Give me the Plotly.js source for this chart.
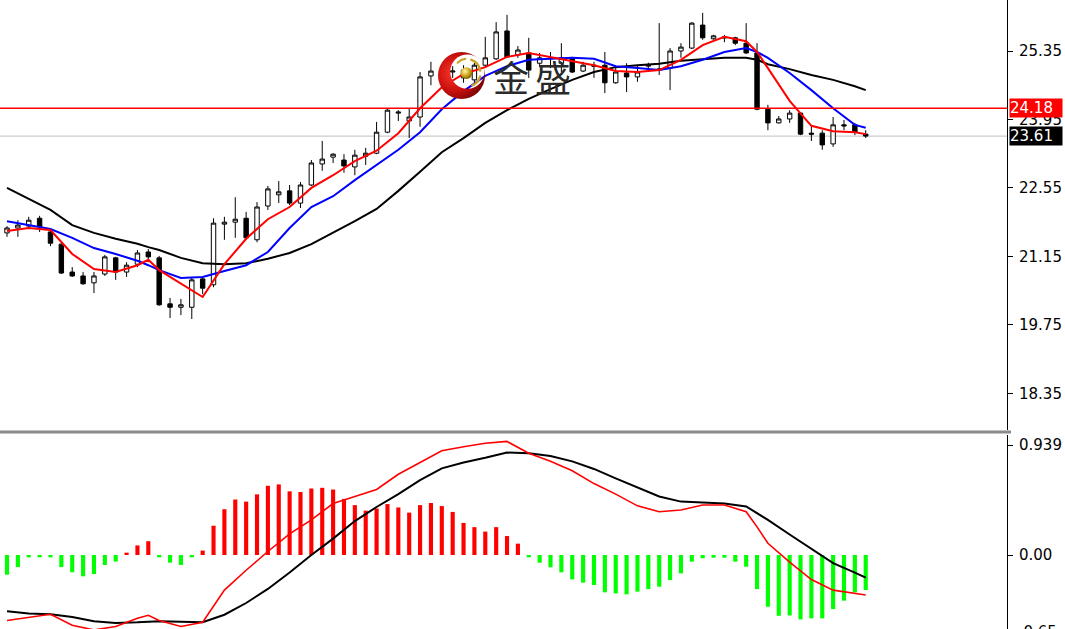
<!DOCTYPE html>
<html>
<head>
<meta charset="utf-8">
<script src="https://cdn.plot.ly/plotly-3.0.1.min.js"></script>
<style>
html,body{margin:0;padding:0;background:#fff;}
#chart{width:1065px;height:629px;}
</style>
</head>
<body>
<div id="chart"></div>
<script>
// ---------- candle data (bar number = position) ----------
const openP = [21.63,21.73,21.77,21.93,21.65,21.40,20.83,20.75,20.61,20.79,
  21.12,20.83,20.99,21.24,21.12,20.18,20.11,20.11,20.69,20.57,
  21.81,21.85,21.93,21.49,22.18,22.41,22.49,22.24,22.61,23.04,
  23.18,23.12,22.98,23.20,23.26,23.69,24.08,23.92,24.00,24.84,
  24.90,24.92,24.80,24.76,25.06,25.19,25.76,25.27,25.31,25.10,
  25.19,25.10,25.21,24.94,25.06,25.06,24.70,24.90,24.82,25.04,
  24.96,25.00,25.35,25.41,25.88,25.60,25.64,25.62,25.51,25.31,
  24.16,23.88,23.96,24.08,23.67,23.67,23.45,23.84,23.84,23.65];
const highP = [21.77,21.89,21.96,21.98,21.69,21.42,20.93,20.83,20.83,21.18,
  21.14,21.03,21.28,21.30,21.16,20.30,20.28,20.73,20.73,21.93,
  21.96,22.36,22.06,22.26,22.59,22.69,22.61,22.67,23.12,23.51,
  23.26,23.24,23.33,23.37,23.90,24.16,24.14,24.18,24.92,25.13,
  25.00,25.04,25.06,25.11,25.64,25.94,26.09,25.45,25.62,25.31,
  25.33,25.51,25.23,25.13,25.13,25.33,25.00,25.10,25.06,25.11,
  25.92,25.41,25.51,25.94,26.13,25.68,25.68,25.64,25.92,25.51,
  24.25,24.02,24.14,24.10,23.80,23.73,24.00,23.94,23.88,23.73];
const lowP = [21.55,21.55,21.73,21.65,21.36,20.79,20.73,20.57,20.40,20.75,
  20.67,20.73,20.93,21.03,20.14,19.89,19.95,19.87,20.38,20.52,
  21.49,21.53,21.49,21.44,22.10,22.24,22.20,22.14,22.59,22.90,
  23.06,22.86,22.81,23.02,23.24,23.67,23.92,23.57,23.80,24.65,
  24.80,24.80,24.70,24.65,25.02,25.17,25.21,25.21,24.80,25.02,
  25.00,24.92,24.90,24.92,24.80,24.49,24.68,24.51,24.72,25.00,
  24.86,24.55,25.21,25.39,25.58,25.58,25.53,25.47,25.29,24.14,
  23.73,23.87,23.88,23.63,23.51,23.33,23.39,23.73,23.63,23.57];
const closeP = [21.73,21.79,21.89,21.75,21.42,20.81,20.75,20.59,20.75,21.14,
  20.83,20.97,21.22,21.14,20.16,20.11,20.16,20.67,20.50,21.83,
  21.85,21.91,21.53,22.16,22.53,22.47,22.24,22.61,23.06,23.14,
  23.24,23.00,23.22,23.26,23.69,24.14,24.10,24.00,24.82,24.94,
  24.92,24.94,24.96,25.06,25.21,25.74,25.23,25.37,24.96,25.21,
  25.21,25.21,24.92,25.06,25.04,24.70,24.92,24.82,24.92,25.06,
  24.98,25.35,25.43,25.92,25.62,25.66,25.62,25.51,25.31,24.16,
  23.88,23.96,24.08,23.65,23.65,23.43,23.84,23.82,23.69,23.61];

// ---------- moving averages (read at sampled bar numbers) ----------
const maBars = [0,2,4,6,8,10,12,13,14,16,18,20,22,24,26,28,30,32,34,36,38,40,42,44,46,48,50,52,54,56,58,60,62,64,66,68,69,70,72,74,76,78,79];
const maFast = [21.67,21.73,21.69,21.20,20.89,20.83,20.97,21.08,20.87,20.59,20.32,20.99,21.51,21.91,22.16,22.55,22.81,23.10,23.31,23.67,24.18,24.61,24.88,25.02,25.23,25.31,25.23,25.15,25.06,24.94,24.92,24.96,25.17,25.47,25.64,25.55,25.33,25.00,24.33,23.82,23.71,23.69,23.65];
const maMid = [21.87,21.79,21.71,21.53,21.32,21.20,21.06,20.97,20.87,20.71,20.73,20.85,20.97,21.24,21.73,22.16,22.38,22.71,23.02,23.33,23.69,24.16,24.53,24.84,25.04,25.17,25.19,25.21,25.19,25.04,25.00,24.96,25.04,25.17,25.33,25.41,25.33,25.21,24.90,24.55,24.18,23.84,23.78];
const maSlow = [22.55,22.32,22.10,21.79,21.63,21.51,21.41,21.34,21.28,21.12,21.01,20.99,21.01,21.10,21.22,21.40,21.63,21.87,22.12,22.49,22.88,23.28,23.57,23.88,24.14,24.37,24.57,24.76,24.92,25.02,25.06,25.09,25.15,25.18,25.21,25.21,25.17,25.08,24.98,24.86,24.76,24.63,24.55];

// ---------- MACD ----------
const macdHist = [-0.168,-0.103,-0.02,-0.02,-0.02,-0.103,-0.147,-0.182,-0.162,-0.085,
  -0.056,0.02,0.082,0.118,-0.02,-0.065,-0.085,-0.02,0.038,0.25,
  0.391,0.474,0.456,0.518,0.591,0.603,0.544,0.538,0.568,0.574,
  0.559,0.479,0.426,0.379,0.397,0.435,0.406,0.362,0.426,0.444,
  0.418,0.368,0.274,0.238,0.2,0.238,0.162,0.097,-0.02,-0.066,
  -0.105,-0.148,-0.208,-0.236,-0.256,-0.319,-0.328,-0.336,-0.313,-0.291,
  -0.271,-0.214,-0.157,-0.057,-0.028,-0.023,-0.023,-0.057,-0.1,-0.291,
  -0.442,-0.519,-0.516,-0.55,-0.541,-0.541,-0.462,-0.39,-0.319,-0.299];
const macdLine = [-0.56,-0.53,-0.506,-0.60,-0.64,-0.61,-0.54,-0.515,-0.56,-0.61,-0.574,-0.30,-0.13,0.03,0.18,0.30,0.44,0.50,0.56,0.69,0.79,0.89,0.925,0.955,0.97,0.87,0.80,0.72,0.61,0.52,0.42,0.37,0.385,0.427,0.427,0.37,0.24,0.10,-0.06,-0.21,-0.30,-0.33,-0.342];
const signalLine = [-0.48,-0.50,-0.506,-0.53,-0.565,-0.58,-0.575,-0.57,-0.565,-0.57,-0.574,-0.51,-0.41,-0.29,-0.15,0.0,0.14,0.29,0.41,0.52,0.64,0.74,0.79,0.83,0.875,0.87,0.845,0.80,0.735,0.655,0.575,0.50,0.456,0.448,0.44,0.415,0.36,0.30,0.175,0.05,-0.07,-0.15,-0.194];

// ---------- levels & tick labels ----------
const alertLevel = 24.18;
const bidLevel = 23.61;
const priceTicks = [18.35, 19.75, 21.15, 22.55, 23.95, 25.35];
const priceTickText = ['18.35','19.75','21.15','22.55','23.95','25.35'];
const macdTicks = [0.939, 0];
const macdTickText = ['0.939','0.00'];
const macdBottomLabel = '-0.65';
const watermark = ['金', '盛'];

const bars = openP.map((_, i) => i);

const W = 1065, H = 629, plotW = 1007;
const mainBot = 430, subTop = 435;
const pyToPaper = py => 1 - py / H;

const axisFont = {family: 'DejaVu Sans, Verdana, sans-serif', size: 15, color: '#000'};

const traces = [
  {
    type: 'candlestick', x: bars, open: openP, high: highP, low: lowP, close: closeP,
    xaxis: 'x', yaxis: 'y',
    increasing: {line: {color: '#000', width: 1}, fillcolor: '#ffffff'},
    decreasing: {line: {color: '#000', width: 1}, fillcolor: '#000000'},
    whiskerwidth: 0, hoverinfo: 'skip'
  },
  {type: 'scatter', mode: 'lines', x: maBars, y: maSlow, xaxis: 'x', yaxis: 'y', line: {color: '#000', width: 2}, hoverinfo: 'skip'},
  {type: 'scatter', mode: 'lines', x: maBars, y: maMid, xaxis: 'x', yaxis: 'y', line: {color: '#0000ff', width: 2}, hoverinfo: 'skip'},
  {type: 'scatter', mode: 'lines', x: maBars, y: maFast, xaxis: 'x', yaxis: 'y', line: {color: '#ff0000', width: 2}, hoverinfo: 'skip'},
  {
    type: 'bar', x: bars, y: macdHist, xaxis: 'x2', yaxis: 'y2', width: 0.38,
    marker: {color: macdHist.map(v => v >= 0 ? '#ff0000' : '#00ff00'), line: {width: 0}}, hoverinfo: 'skip'
  },
  {type: 'scatter', mode: 'lines', x: maBars, y: signalLine, xaxis: 'x2', yaxis: 'y2', line: {color: '#000', width: 2}, hoverinfo: 'skip'},
  {type: 'scatter', mode: 'lines', x: maBars, y: macdLine, xaxis: 'x2', yaxis: 'y2', line: {color: '#ff0000', width: 1.6}, hoverinfo: 'skip'}
];

const xRange = [-0.644, 91.996];
const logoSvg = '<svg xmlns="http://www.w3.org/2000/svg" viewBox="0 0 100 100">' +
  '<defs>' +
  '<radialGradient id="r" cx="35%" cy="45%" r="70%"><stop offset="0" stop-color="#ff3a2a"/><stop offset="0.55" stop-color="#c8100e"/><stop offset="1" stop-color="#6a0000"/></radialGradient>' +
  '<radialGradient id="g" cx="38%" cy="35%" r="65%"><stop offset="0" stop-color="#fff6b0"/><stop offset="0.5" stop-color="#d8b42a"/><stop offset="1" stop-color="#8a6800"/></radialGradient>' +
  '<mask id="m"><rect width="100" height="100" fill="white"/><circle cx="62" cy="42" r="35" fill="black"/></mask>' +
  '</defs>' +
  '<circle cx="50" cy="50" r="48" fill="url(#r)" mask="url(#m)"/>' +
  '<path d="M 70 18 A 27 27 0 0 1 88 40" fill="none" stroke="#c9a227" stroke-width="5" stroke-linecap="round"/>' +
  '<path d="M 88 52 A 27 27 0 0 1 72 70" fill="none" stroke="#c9a227" stroke-width="5" stroke-linecap="round"/>' +
  '<path d="M 42 24 A 27 27 0 0 1 58 16" fill="none" stroke="#c9a227" stroke-width="4" stroke-linecap="round"/>' +
  '<circle cx="60" cy="45" r="12" fill="url(#g)"/>' +
  '</svg>';

const layout = {
  width: W, height: H,
  margin: {l: 0, r: W - plotW, t: 0, b: 0, pad: 0},
  paper_bgcolor: '#ffffff', plot_bgcolor: '#ffffff',
  showlegend: false, hovermode: false, dragmode: false,
  boxgap: 0.42,
  xaxis: {domain: [0, 1], range: xRange, anchor: 'y', showgrid: false, zeroline: false, showticklabels: false, ticks: '', showline: false, rangeslider: {visible: false}, fixedrange: true},
  xaxis2: {domain: [0, 1], range: xRange, anchor: 'y2', matches: 'x', showgrid: false, zeroline: false, showticklabels: false, ticks: '', showline: false, fixedrange: true},
  yaxis: {
    domain: [pyToPaper(mainBot), 1], range: [17.60, 26.393], side: 'right', anchor: 'x',
    showgrid: false, zeroline: false, showline: true, linecolor: '#000', linewidth: 1,
    ticks: 'outside', ticklen: 5, tickcolor: '#000', tickwidth: 1, ticklabelstandoff: 3,
    tickmode: 'array', tickvals: priceTicks, ticktext: priceTickText, tickfont: axisFont, fixedrange: true
  },
  yaxis2: {
    domain: [0, pyToPaper(subTop)], range: [-0.632, 1.025], side: 'right', anchor: 'x2',
    showgrid: false, zeroline: false, showline: true, linecolor: '#000', linewidth: 1,
    ticks: 'outside', ticklen: 5, tickcolor: '#000', tickwidth: 1, ticklabelstandoff: 3,
    tickmode: 'array', tickvals: macdTicks, ticktext: macdTickText, tickfont: axisFont, fixedrange: true
  },
  shapes: [
    {type: 'line', xref: 'paper', yref: 'y', x0: 0, x1: 1, y0: bidLevel, y1: bidLevel, line: {color: '#c0c0c0', width: 1}, layer: 'below'},
    {type: 'line', xref: 'paper', yref: 'y', x0: 0, x1: 1, y0: alertLevel, y1: alertLevel, line: {color: '#ff0000', width: 1.6}},
    {type: 'line', xref: 'paper', yref: 'paper', x0: 0, x1: 1.004, y0: pyToPaper(432), y1: pyToPaper(432), line: {color: '#8a8a8a', width: 3}}
  ],
  images: [
    {source: 'data:image/svg+xml;charset=utf-8,' + encodeURIComponent(logoSvg), xref: 'paper', yref: 'paper',
     x: 437 / plotW, y: pyToPaper(51), sizex: 49 / plotW, sizey: 49 / H, xanchor: 'left', yanchor: 'top', sizing: 'stretch', layer: 'above'}
  ],
  annotations: [
    {xref: 'paper', yref: 'paper', x: 511 / plotW, y: pyToPaper(76), text: watermark[0], showarrow: false,
     font: {family: 'Noto Sans CJK SC', size: 36, color: '#2a2a2a'}, xanchor: 'center', yanchor: 'middle'},
    {xref: 'paper', yref: 'paper', x: 553 / plotW, y: pyToPaper(76), text: watermark[1], showarrow: false,
     font: {family: 'Noto Sans CJK SC', size: 36, color: '#2a2a2a'}, xanchor: 'center', yanchor: 'middle'},
    {xref: 'paper', yref: 'y', x: 1 + 2 / plotW, y: alertLevel, text: alertLevel.toFixed(2) + '&nbsp;&nbsp;', showarrow: false,
     xanchor: 'left', yanchor: 'middle', bgcolor: '#ff0000', font: {family: axisFont.family, size: 15, color: '#ffffff'}, borderpad: 0},
    {xref: 'paper', yref: 'y', x: 1 + 2 / plotW, y: bidLevel, text: bidLevel.toFixed(2) + '&nbsp;&nbsp;', showarrow: false,
     xanchor: 'left', yanchor: 'middle', bgcolor: '#000000', font: {family: axisFont.family, size: 15, color: '#ffffff'}, borderpad: 0},
    {xref: 'paper', yref: 'paper', x: 1 + 9 / plotW, y: pyToPaper(632), text: macdBottomLabel, showarrow: false,
     xanchor: 'left', yanchor: 'middle', font: axisFont}
  ]
};

Plotly.newPlot('chart', traces, layout, {staticPlot: true, displayModeBar: false});
</script>
</body>
</html>
